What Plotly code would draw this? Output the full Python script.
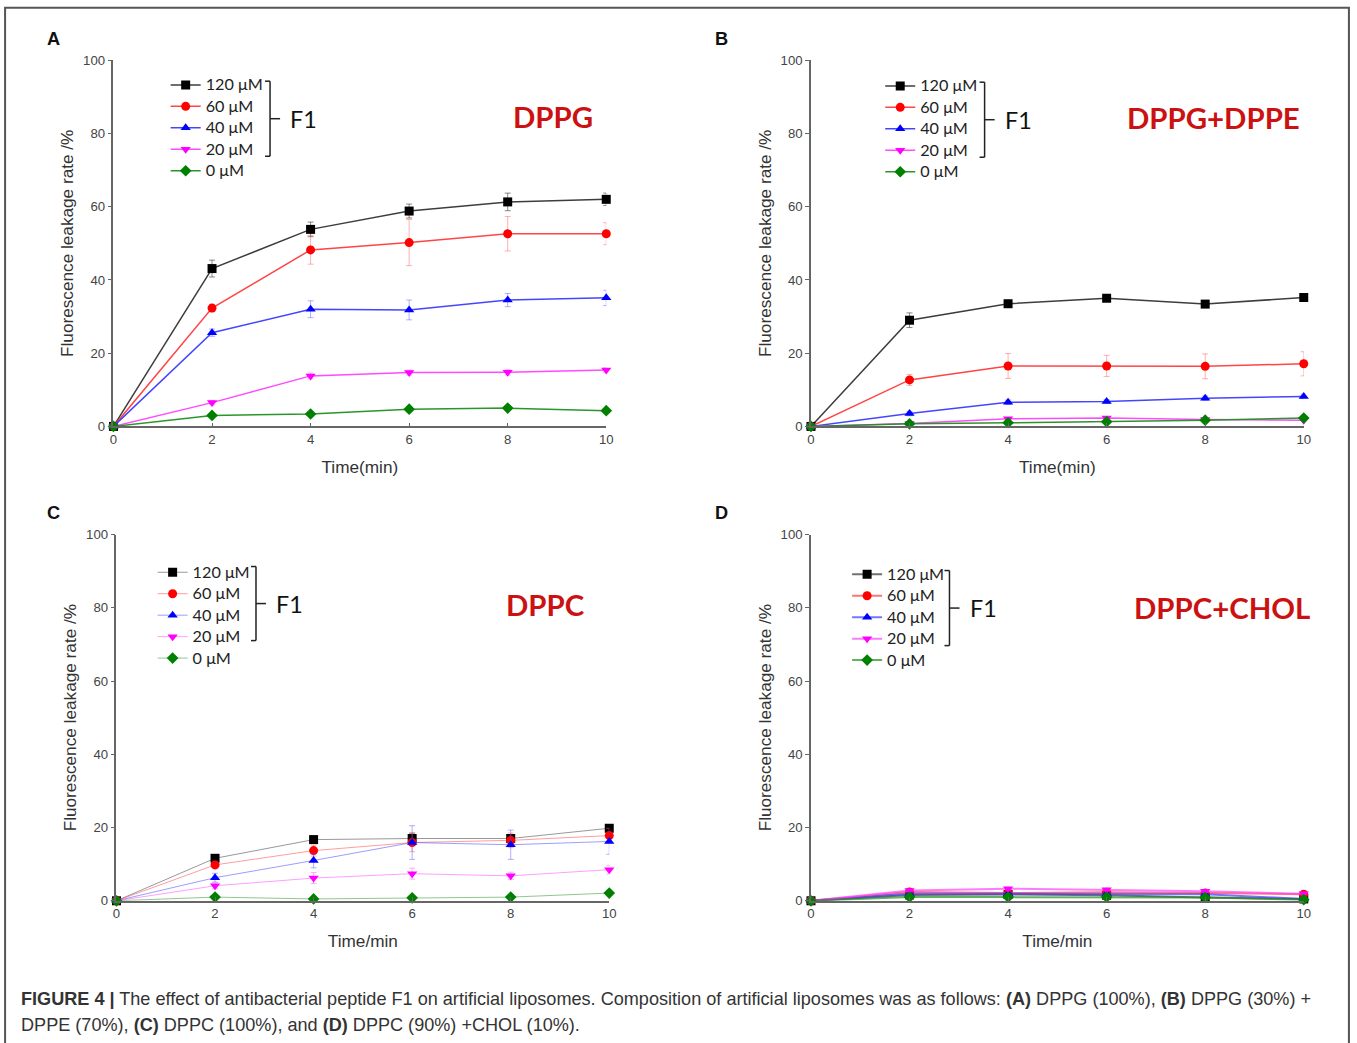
import plotly.graph_objects as go

W, H = 1357, 1043
# the rendered page (figure plus the 8px body margin) is shown scaled down to W x H
OFF = 8
SX = W / (W + 2 * OFF)
SY = H / (H + 2 * OFF)
FS = 2 / (SX + SY)  # font compensation

time_min = [0, 2, 4, 6, 8, 10]
doses = ["120 μM", "60 μM", "40 μM", "20 μM", "0 μM"]

# Panel A: DPPG
a_120 = [0, 43.1, 53.8, 58.8, 61.3, 62.0]
a_60 = [0, 32.3, 48.2, 50.2, 52.6, 52.6]
a_40 = [0, 25.6, 32.0, 31.8, 34.5, 35.1]
a_20 = [0, 6.5, 13.8, 14.7, 14.8, 15.4]
a_0 = [0, 3.0, 3.4, 4.7, 5.0, 4.3]
a_120_sd = [0, 2.3, 2.0, 1.9, 2.4, 1.7]
a_60_sd = [0, 1.0, 3.9, 6.3, 4.7, 3.0]
a_40_sd = [0, 1.0, 2.3, 2.7, 1.8, 2.1]
a_20_sd = [0, 0.6, 0.8, 0.7, 0.8, 0.6]
a_0_sd = [0, 0.4, 0.4, 0.5, 0.5, 0.4]

# Panel B: DPPG+DPPE
b_120 = [0, 29.0, 33.5, 35.0, 33.4, 35.2]
b_60 = [0, 12.7, 16.5, 16.5, 16.4, 17.1]
b_40 = [0, 3.5, 6.6, 6.8, 7.7, 8.2]
b_20 = [0, 0.8, 2.1, 2.3, 1.9, 1.7]
b_0 = [0, 0.7, 1.0, 1.3, 1.7, 2.3]
b_120_sd = [0, 2.0, 0.8, 0.8, 0.6, 0.8]
b_60_sd = [0, 1.5, 3.4, 2.9, 3.4, 3.3]
b_40_sd = [0, 0.6, 0.6, 0.5, 0.6, 0.6]
b_20_sd = [0, 0.3, 0.3, 0.3, 0.3, 0.3]
b_0_sd = [0, 0.2, 0.2, 0.2, 0.2, 0.2]

# Panel C: DPPC
c_120 = [0, 11.6, 16.7, 17.0, 17.0, 19.8]
c_60 = [0, 9.8, 13.7, 15.9, 16.5, 17.8]
c_40 = [0, 6.3, 11.0, 15.9, 15.3, 16.2]
c_20 = [0, 4.1, 6.2, 7.4, 6.8, 8.5]
c_0 = [0, 1.0, 0.5, 0.8, 1.0, 2.1]
c_120_sd = [0, 0.8, 1.0, 1.5, 1.0, 0.8]
c_60_sd = [0, 1.0, 1.5, 2.5, 2.0, 2.0]
c_40_sd = [0, 1.2, 2.0, 4.6, 4.0, 3.5]
c_20_sd = [0, 0.8, 1.5, 1.5, 1.0, 1.2]
c_0_sd = [0, 0.3, 0.3, 0.3, 0.3, 0.3]

# Panel D: DPPC+CHOL
d_120 = [0, 1.6, 1.7, 1.5, 0.9, 0.5]
d_60 = [0, 2.4, 2.1, 2.3, 2.1, 1.8]
d_40 = [0, 1.9, 1.9, 1.9, 1.8, 0.5]
d_20 = [0, 2.8, 3.3, 3.0, 2.6, 1.9]
d_0 = [0, 1.0, 1.0, 1.0, 0.9, 0.3]
d_sd = [0, 0.3, 0.3, 0.3, 0.3, 0.3]

panel_titles = ["DPPG", "DPPG+DPPE", "DPPC", "DPPC+CHOL"]
panel_letters = ["A", "B", "C", "D"]
x_titles = ["Time(min)", "Time(min)", "Time/min", "Time/min"]
y_title = "Fluorescence leakage rate /%"

series = {
    "A": ([a_120, a_60, a_40, a_20, a_0], [a_120_sd, a_60_sd, a_40_sd, a_20_sd, a_0_sd]),
    "B": ([b_120, b_60, b_40, b_20, b_0], [b_120_sd, b_60_sd, b_40_sd, b_20_sd, b_0_sd]),
    "C": ([c_120, c_60, c_40, c_20, c_0], [c_120_sd, c_60_sd, c_40_sd, c_20_sd, c_0_sd]),
    "D": ([d_120, d_60, d_40, d_20, d_0], [d_sd] * 5),
}

marker_colors = ["#000000", "#ff0000", "#0000ff", "#ff00ff", "#008000"]
line_rgb = [(51, 51, 51), (255, 59, 59), (59, 59, 255), (255, 64, 255), (31, 143, 31)]
err_colors = ["rgba(60,60,60,0.6)", "rgba(255,80,80,0.45)", "rgba(80,80,255,0.45)",
              "rgba(255,80,255,0.45)", "rgba(30,140,30,0.45)"]
symbols = ["square", "circle", "triangle-up", "triangle-down", "diamond"]


def px_x(p):
    return (p / SX - OFF) / W


def px_y(p):
    return 1 - (p / SY - OFF) / H


def fsz(s):
    return round(s * FS, 1)


# plot area boxes in display pixels: (left, right, top, bottom)
boxes = {
    "A": (117, 608, 61, 427),
    "B": (812, 1303, 61, 427),
    "C": (120, 611, 535, 901),
    "D": (812, 1303, 535, 901),
}
axis_ids = {"A": ("x", "y"), "B": ("x2", "y2"), "C": ("x3", "y3"), "D": ("x4", "y4")}
legend_ids = {"A": "legend", "B": "legend2", "C": "legend3", "D": "legend4"}
line_style = {
    "A": dict(width=1.5, alpha=0.95),
    "B": dict(width=1.5, alpha=0.95),
    "C": dict(width=1.0, alpha=0.5),
    "D": dict(width=2.0, alpha=0.7),
}

fig = go.Figure()

for key in ["A", "B", "C", "D"]:
    xa, ya = axis_ids[key]
    vals, sds = series[key]
    st = line_style[key]
    for i in range(5):
        r, g, b = line_rgb[i]
        fig.add_trace(go.Scatter(
            x=time_min, y=vals[i], xaxis=xa, yaxis=ya,
            mode="lines+markers",
            name=f'<span style="font-size:{fsz(16)}px">' + doses[i] + "</span>",
            legend=legend_ids[key],
            line=dict(color=f"rgba({r},{g},{b},{st['alpha']})", width=st["width"]),
            marker=dict(symbol=symbols[i], color=marker_colors[i], size=9,
                        line=dict(width=0)),
            error_y=dict(type="data", array=sds[i], visible=True,
                         color=err_colors[i], thickness=1, width=3),
            cliponaxis=False,
        ))

layout = dict(
    width=W, height=H,
    margin=dict(l=0, r=0, t=0, b=0),
    paper_bgcolor="white", plot_bgcolor="white",
    showlegend=True,
    font=dict(family="Liberation Sans, Arial, sans-serif", color="#333333"),
)

ax_common = dict(showgrid=False, zeroline=False, showline=True, linecolor="#666666",
                 linewidth=1.5, tickfont=dict(size=fsz(13), color="#444444"),
                 ticklen=4, tickcolor="#666666", tickwidth=1)

annotations = []
shapes = []
legend_x = {"A": 169, "B": 881, "C": 156, "D": 848}
legend_y = {"A": 70, "B": 71, "C": 557, "D": 559}
bracket = {"A": (273, 82, 157), "B": (985, 83, 158), "C": (259, 567, 641), "D": (950, 571, 646)}
title_pos = {"A": (555, 117), "B": (1213, 118), "C": (547, 605), "D": (1222, 608)}
letter_pos = {"A": (57, 40), "B": (723, 40), "C": (57, 514), "D": (723, 514)}

for n, key in enumerate(["A", "B", "C", "D"]):
    l, r, t, b = boxes[key]
    suffix = "" if n == 0 else str(n + 1)
    layout["xaxis" + suffix] = dict(
        ax_common, domain=[px_x(l), px_x(r)], range=[0, 10], tickvals=[0, 2, 4, 6, 8, 10],
        ticks="inside", anchor="y" + suffix,
        title=dict(text=x_titles[n], font=dict(size=fsz(17), color="#333333"), standoff=15),
    )
    layout["yaxis" + suffix] = dict(
        ax_common, domain=[px_y(b), px_y(t)], range=[0, 100],
        tickvals=[0, 20, 40, 60, 80, 100], ticks="outside", anchor="x" + suffix,
        title=dict(text=y_title, font=dict(size=fsz(17), color="#333333"), standoff=5),
    )
    layout[legend_ids[key]] = dict(
        x=px_x(legend_x[key]), y=px_y(legend_y[key]), xanchor="left", yanchor="top",
        bgcolor="rgba(0,0,0,0)", borderwidth=0, tracegroupgap=0,
        font=dict(family="Lato, Open Sans, sans-serif", size=fsz(14), color="#222222"),
        itemwidth=30,
    )
    # bracket grouping the F1 doses
    bx, by0, by1 = bracket[key]
    bl = dict(type="line", xref="paper", yref="paper", line=dict(color="#222222", width=1.5))
    shapes.append(dict(bl, x0=px_x(bx), x1=px_x(bx), y0=px_y(by0), y1=px_y(by1)))
    shapes.append(dict(bl, x0=px_x(bx - 5), x1=px_x(bx), y0=px_y(by0), y1=px_y(by0)))
    shapes.append(dict(bl, x0=px_x(bx - 5), x1=px_x(bx), y0=px_y(by1), y1=px_y(by1)))
    ym = (by0 + by1) / 2
    shapes.append(dict(bl, x0=px_x(bx), x1=px_x(bx + 10), y0=px_y(ym), y1=px_y(ym)))
    annotations.append(dict(text="F1", x=px_x(bx + 18), y=px_y(ym), xref="paper", yref="paper",
                            xanchor="left", yanchor="middle", showarrow=False,
                            font=dict(family="Lato, Open Sans, sans-serif", size=fsz(23),
                                      color="#111111")))
    tx, ty = title_pos[key]
    annotations.append(dict(text="<b>" + panel_titles[n] + "</b>", x=px_x(tx), y=px_y(ty),
                            xref="paper", yref="paper", xanchor="center", yanchor="middle",
                            showarrow=False,
                            font=dict(family="Lato, Open Sans, sans-serif", size=fsz(29),
                                      color="#cc1111")))
    lx, ly = letter_pos[key]
    annotations.append(dict(text="<b>" + panel_letters[n] + "</b>", x=px_x(lx), y=px_y(ly),
                            xref="paper", yref="paper", xanchor="center", yanchor="middle",
                            showarrow=False,
                            font=dict(family="Liberation Sans, Arial, sans-serif", size=fsz(18),
                                      color="#111111")))

caption_lines = [
    ("<b>FIGURE 4 |</b> The effect of antibacterial peptide F1 on artificial liposomes. "
     "Composition of artificial liposomes was as follows: <b>(A)</b> DPPG (100%), "
     "<b>(B)</b> DPPG (30%) +", 999),
    ("DPPE (70%), <b>(C)</b> DPPC (100%), and <b>(D)</b> DPPC (90%) +CHOL (10%).", 1025),
]
for text, cy in caption_lines:
    annotations.append(dict(text=text, x=px_x(23), y=px_y(cy), xref="paper", yref="paper",
                            xanchor="left", yanchor="middle", align="left", showarrow=False,
                            font=dict(family="Liberation Sans, Arial, sans-serif", size=fsz(17.85),
                                      color="#333333")))

# outer frame of the figure
shapes.append(dict(type="rect", xref="paper", yref="paper", x0=0.0008, x1=0.9992,
                   y0=-0.05, y1=0.9992, line=dict(color="#555555", width=2)))

layout["annotations"] = annotations
layout["shapes"] = shapes
fig.update_layout(**layout)

fig.write_html("out.html")
